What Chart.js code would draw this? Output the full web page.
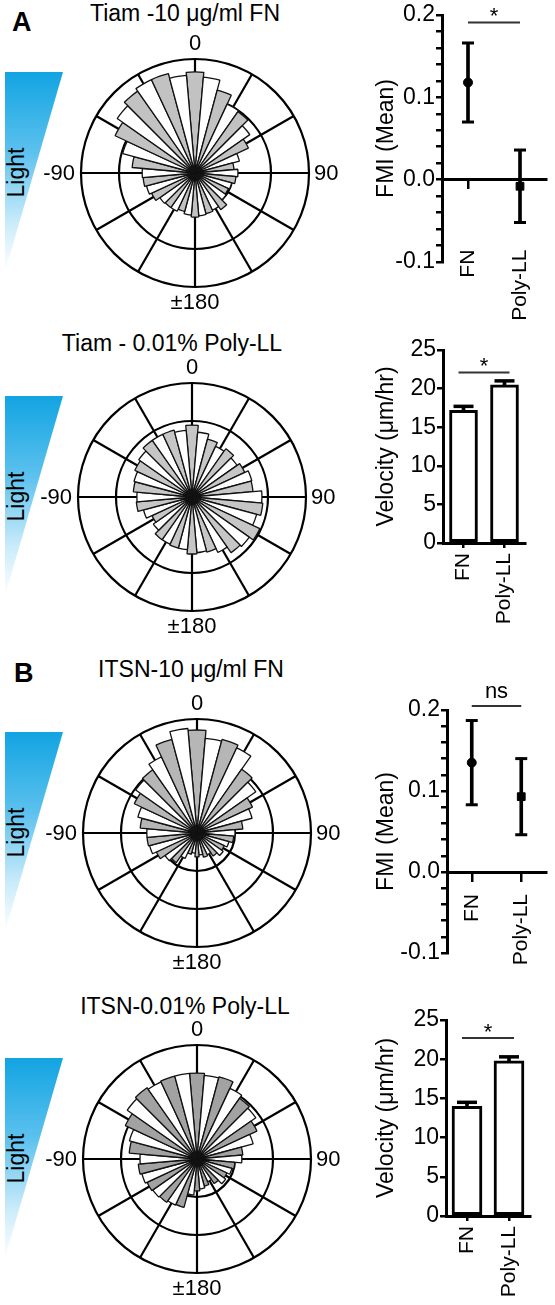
<!DOCTYPE html>
<html>
<head>
<meta charset="utf-8">
<script src="https://cdn.jsdelivr.net/npm/chart.js@4.4.1/dist/chart.umd.min.js"></script>
<style>
html,body{margin:0;padding:0;background:#fff;}
body{width:555px;height:1305px;position:relative;overflow:hidden;font-family:"Liberation Sans",Arial,Helvetica,sans-serif;color:#000;}
canvas{position:absolute;}
.t{position:absolute;white-space:nowrap;line-height:1;}
.title{font-size:23px;transform:translateX(-50%);}
.panel{font-size:27px;font-weight:bold;}
.light{font-size:23px;width:100px;text-align:center;line-height:23px;transform:rotate(-90deg);}
.tri{position:absolute;width:58px;height:200px;clip-path:polygon(0 0,100% 0,0 100%);background:linear-gradient(to bottom,#12a4e2 0%,#5cc1ee 40%,#c9ebfa 75%,#ffffff 100%);}
</style>
</head>
<body>
<div class="t panel" style="left:12px;top:9px;">A</div>
<div class="t panel" style="left:14px;top:660px;">B</div>

<div class="t title" style="left:185px;top:2px;">Tiam -10 μg/ml FN</div>
<div class="t title" style="left:172px;top:332px;">Tiam - 0.01% Poly-LL</div>
<div class="t title" style="left:191px;top:658px;">ITSN-10 μg/ml FN</div>
<div class="t title" style="left:185px;top:995px;">ITSN-0.01% Poly-LL</div>

<div class="tri" style="left:5px;top:72px;"></div>
<div class="tri" style="left:5px;top:396px;"></div>
<div class="tri" style="left:5px;top:732px;"></div>
<div class="tri" style="left:5px;top:1058px;"></div>
<div class="t light" style="left:-34px;top:161px;">Light</div>
<div class="t light" style="left:-34px;top:485px;">Light</div>
<div class="t light" style="left:-34px;top:821px;">Light</div>
<div class="t light" style="left:-34px;top:1147px;">Light</div>

<canvas id="rose1" width="340" height="300" style="left:25px;top:23px;"></canvas>
<canvas id="rose2" width="340" height="300" style="left:22px;top:347px;"></canvas>
<canvas id="rose3" width="340" height="300" style="left:27px;top:683px;"></canvas>
<canvas id="rose4" width="340" height="300" style="left:27px;top:1009px;"></canvas>

<canvas id="fmiA" width="185" height="340" style="left:370px;top:0px;"></canvas>
<canvas id="velA" width="185" height="305" style="left:370px;top:335px;"></canvas>
<canvas id="fmiB" width="185" height="335" style="left:370px;top:660px;"></canvas>
<canvas id="velB" width="185" height="300" style="left:370px;top:1005px;"></canvas>

<script>
// ---------------- data ----------------
// rose-diagram bin centres (degrees, clockwise from 0 = toward light)
const binAngles = [0,10,20,30,40,50,60,70,80,90,100,110,120,130,140,150,160,170,
                   180,190,200,210,220,230,240,250,260,270,280,290,300,310,320,330,340,350];
// relative frequency per bin (outer ring = 30)
const tiamFN  = [26.6,25.3,22.6,20.0,19.7,17.6,15.5,12.1,10.3,11.3,10.8,10.0,9.7,10.0,11.8,10.8,11.1,11.3,
                 11.6,11.1,10.5,11.1,11.1,11.3,12.6,13.2,13.7,13.9,16.6,19.7,23.2,25.0,26.3,27.1,27.1,25.8];
const tiamPLL = [18.9,17.1,15.8,14.7,15.5,14.5,15.3,16.3,16.1,18.4,18.7,17.6,19.7,18.4,17.9,16.1,15.0,14.7,
                 15.0,13.9,13.9,13.7,13.7,12.4,11.6,13.2,14.7,14.5,15.5,15.8,16.6,17.1,18.2,18.2,18.2,17.6];
const itsnFN  = [27.1,25.0,25.5,24.7,20.5,18.9,16.1,15.0,12.1,10.0,9.7,8.7,7.9,8.4,7.4,6.3,6.6,5.8,
                 6.3,5.3,5.8,7.4,9.5,10.3,11.8,12.9,13.2,13.2,15.0,16.1,18.2,19.7,20.3,22.1,25.5,27.6];
const itsnPLL = [22.6,22.1,22.4,20.5,19.5,18.9,17.4,15.3,12.1,11.8,10.0,9.5,8.7,9.2,7.9,6.6,7.4,7.9,
                 8.4,9.5,13.2,13.4,13.9,14.2,14.5,15.0,15.5,15.0,17.9,18.4,20.8,22.4,22.9,22.4,22.6,22.6];
const spokeAngles = [0,30,60,90,120,150,180,210,240,270,300,330];
const compassLabels = ['0','90','±180','-90'];

const conditions = ['FN','Poly-LL'];
const fmiTiamMean = [0.118,-0.008];
const fmiTiamSEM  = [0.048, 0.044];
const fmiItsnMean = [0.135, 0.093];
const fmiItsnSEM  = [0.052, 0.047];
const velTiamMean = [17.2, 20.5];
const velTiamSEM  = [0.5, 0.5];
const velItsnMean = [14.0, 19.8];
const velItsnSEM  = [0.5, 0.5];
// significance bars: [level, label]
const sigFmiTiam = [0.191,'*'];
const sigVelTiam = [22.1,'*'];
const sigFmiItsn = [0.205,'ns'];
const sigVelItsn = [22.7,'*'];

// ---------------- setup ----------------
const FONT = '"Liberation Sans", Arial, Helvetica, sans-serif';
Chart.defaults.font.family = FONT;
Chart.defaults.color = '#000';

const roseDecor = {
  id: 'roseDecor',
  beforeDatasetsDraw(chart) {
    const s = chart.scales.r, ctx = chart.ctx;
    const cx = s.xCenter, cy = s.yCenter, R = s.drawingArea;
    ctx.save();
    ctx.strokeStyle = '#000';
    ctx.lineWidth = 2.2;
    spokeAngles.forEach(a => {
      const t = a * Math.PI / 180;
      ctx.beginPath();
      ctx.moveTo(cx, cy);
      ctx.lineTo(cx + R * Math.sin(t), cy - R * Math.cos(t));
      ctx.stroke();
    });
    ctx.restore();
  },
  afterDraw(chart) {
    const s = chart.scales.r, ctx = chart.ctx;
    const cx = s.xCenter, cy = s.yCenter, R = s.drawingArea;
    ctx.save();
    ctx.fillStyle = '#000';
    ctx.font = '22px ' + FONT;
    ctx.textBaseline = 'middle';
    ctx.textAlign = 'center';
    ctx.fillText(compassLabels[0], cx, cy - R - 15);
    ctx.fillText(compassLabels[2], cx, cy + R + 16);
    ctx.textAlign = 'left';
    ctx.fillText(compassLabels[1], cx + R + 5, cy + 1);
    ctx.textAlign = 'right';
    ctx.fillText(compassLabels[3], cx - R - 6, cy + 1);
    ctx.restore();
  }
};

function rose(id, values, gray) {
  return new Chart(document.getElementById(id), {
    type: 'polarArea',
    data: {
      labels: binAngles,
      datasets: [{
        data: values,
        backgroundColor: c => (c.dataIndex % 2 ? '#ffffff' : gray),
        borderColor: '#111',
        borderWidth: 1.3
      }]
    },
    options: {
      responsive: false, animation: false, events: [],
      layout: { padding: { left: 56, right: 56, top: 36, bottom: 36 } },
      plugins: { legend: { display: false }, tooltip: { enabled: false } },
      scales: {
        r: {
          min: 0, max: 30, startAngle: -5,
          ticks: { display: false, stepSize: 10 },
          grid: { color: '#000', lineWidth: 2.2, circular: true },
          angleLines: { display: false },
          pointLabels: { display: false }
        }
      }
    },
    plugins: [roseDecor]
  });
}

const sigPlugin = {
  id: 'sig',
  afterDatasetsDraw(chart, args, o) {
    const x = chart.scales.x, y = chart.scales.y, ctx = chart.ctx;
    const yp = y.getPixelForValue(o.level);
    const x1 = x.getPixelForValue(0) - o.ext, x2 = x.getPixelForValue(1) + o.ext;
    ctx.save();
    ctx.strokeStyle = '#333';
    ctx.lineWidth = 2;
    ctx.beginPath(); ctx.moveTo(x1, yp); ctx.lineTo(x2, yp); ctx.stroke();
    ctx.fillStyle = '#000';
    ctx.font = '22px ' + FONT;
    ctx.textAlign = 'center';
    ctx.textBaseline = 'alphabetic';
    ctx.fillText(o.text, (x1 + x2) / 2, yp + o.dy);
    ctx.restore();
  }
};

function fmiChart(id, mean, sem, sig, o) {
  const lo = mean.map((m, i) => m - sem[i]);
  const hi = mean.map((m, i) => m + sem[i]);
  const capDs = d => ({ type: 'line', data: d, showLine: false, pointStyle: 'line', pointRadius: 6,
    pointBorderWidth: 3, pointBorderColor: '#000', order: 2, clip: false });
  return new Chart(document.getElementById(id), {
    type: 'bar',
    data: {
      labels: conditions,
      datasets: [
        { type: 'bar', data: lo.map((l, i) => [l, hi[i]]), backgroundColor: '#000', borderWidth: 0,
          barThickness: 3, grouped: false, order: 3 },
        capDs(hi), capDs(lo),
        { type: 'line', data: mean, showLine: false, pointStyle: ['circle', 'rect'], pointRadius: [4.5, 5.5],
          pointBackgroundColor: '#000', pointBorderColor: '#000', pointBorderWidth: 1, order: 1, clip: false }
      ]
    },
    options: {
      responsive: false, animation: false, events: [],
      layout: { padding: o.pad },
      plugins: { legend: { display: false }, tooltip: { enabled: false },
        sig: { level: sig[0], text: sig[1], ext: 0, dy: sig[1] === 'ns' ? -8 : 1 } },
      scales: {
        x: {
          type: 'category', offset: true, position: { y: 0 },
          afterFit: s => { s.paddingLeft = 0; s.paddingRight = 0; },
          grid: { offset: false, drawOnChartArea: false, tickLength: 8, color: '#000', lineWidth: 2.5 },
          border: { color: '#000', width: 3 },
          ticks: { minRotation: 90, maxRotation: 90, padding: o.xPad, font: { size: 21 } }
        },
        y: {
          min: -0.1, max: 0.2,
          afterFit: s => { s.width = o.yW; },
          ticks: { stepSize: 0.02, autoSkip: false, padding: 1, font: { size: 23 },
            callback: v => (Math.abs(v * 10 - Math.round(v * 10)) < 1e-6 ? v.toFixed(1) : '') },
          grid: { drawOnChartArea: false, tickLength: 6, color: '#000', lineWidth: 2.5 },
          border: { color: '#000', width: 3 },
          title: { display: true, text: 'FMI (Mean)', font: { size: 23 }, padding: { top: 3, bottom: 0 } }
        }
      }
    },
    plugins: [sigPlugin]
  });
}

function velChart(id, mean, sem, sig, o) {
  const hi = mean.map((m, i) => m + sem[i]);
  return new Chart(document.getElementById(id), {
    type: 'bar',
    data: {
      labels: conditions,
      datasets: [
        { type: 'bar', data: mean, backgroundColor: '#fff', borderColor: '#000', borderWidth: 3,
          borderSkipped: false, barThickness: o.barW, grouped: false, order: 2 },
        { type: 'bar', data: mean.map((m, i) => [m, hi[i]]), backgroundColor: '#000', borderWidth: 0,
          barThickness: 3, grouped: false, order: 1 },
        { type: 'line', data: hi, showLine: false, pointStyle: 'line', pointRadius: 10,
          pointBorderWidth: 3.5, pointBorderColor: '#000', order: 0, clip: false }
      ]
    },
    options: {
      responsive: false, animation: false, events: [],
      layout: { padding: o.pad },
      plugins: { legend: { display: false }, tooltip: { enabled: false },
        sig: { level: sig[0], text: sig[1], ext: 5, dy: 1 } },
      scales: {
        x: {
          offset: true,
          afterFit: s => { s.height = o.xH; },
          grid: { offset: false, drawOnChartArea: false, tickLength: 5, color: '#000', lineWidth: 2.5 },
          border: { color: '#000', width: 3 },
          ticks: { minRotation: 90, maxRotation: 90, padding: 5, font: { size: 21 } }
        },
        y: {
          min: 0, max: 25,
          afterFit: s => { s.width = o.yW; },
          ticks: { stepSize: 5, padding: 1, font: { size: 23 } },
          grid: { drawOnChartArea: false, tickLength: 6, color: '#000', lineWidth: 2.5 },
          border: { color: '#000', width: 3 },
          title: { display: true, text: 'Velocity (μm/hr)', font: { size: 23 }, padding: { top: 3, bottom: 0 } }
        }
      }
    },
    plugins: [sigPlugin]
  });
}

rose('rose1', tiamFN,  '#c2c2c2');
rose('rose2', tiamPLL, '#c6c6c6');
rose('rose3', itsnFN,  '#b6b6b6');
rose('rose4', itsnPLL, '#a2a2a2');

fmiChart('fmiA', fmiTiamMean, fmiTiamSEM, sigFmiTiam,
  { pad: { top: 15, bottom: 78, left: 0, right: 9 }, yW: 72, xPad: 62 });
fmiChart('fmiB', fmiItsnMean, fmiItsnSEM, sigFmiItsn,
  { pad: { top: 50, bottom: 42, left: 0, right: 4 }, yW: 77, xPad: 14 });
velChart('velA', velTiamMean, velTiamSEM, sigVelTiam,
  { pad: { top: 15, bottom: 0, left: 0, right: 30 }, yW: 73, xH: 97, barW: 28 });
velChart('velB', velItsnMean, velItsnSEM, sigVelItsn,
  { pad: { top: 15, bottom: 0, left: 0, right: 25 }, yW: 76, xH: 89, barW: 30 });
</script>
</body>
</html>
